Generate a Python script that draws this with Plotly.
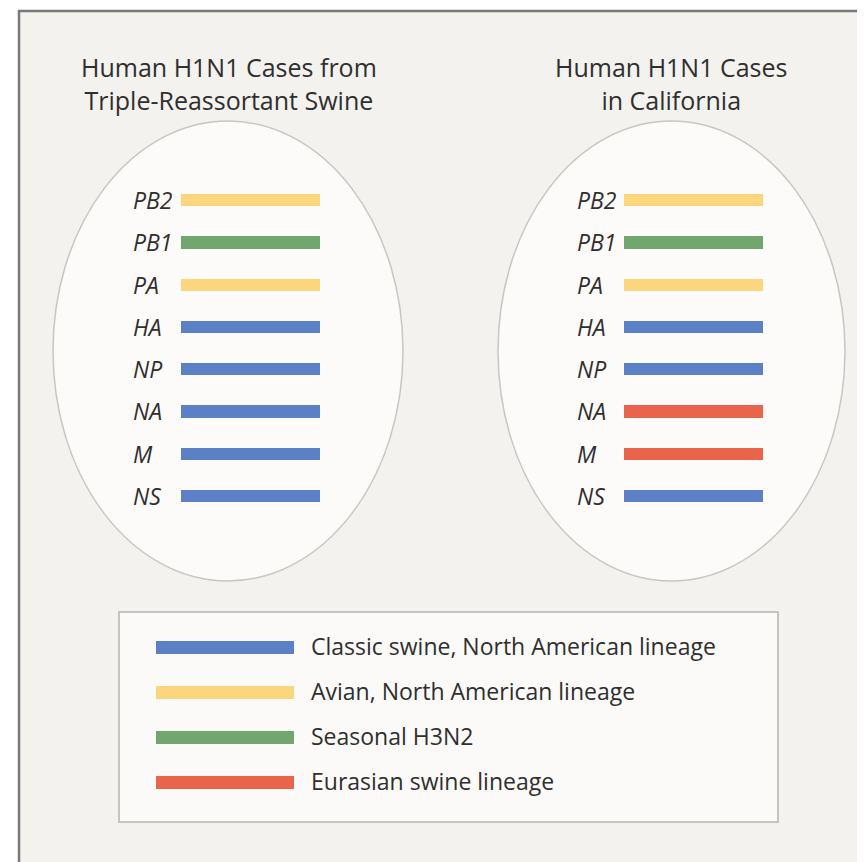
import plotly.graph_objects as go

W, H = 865, 862
OFF = 8  # browser body margin offset

genes = ["PB2", "PB1", "PA", "HA", "NP", "NA", "M", "NS"]
lineages = [
    "Classic swine, North American lineage",
    "Avian, North American lineage",
    "Seasonal H3N2",
    "Eurasian swine lineage",
]
lineage_colors = ["#5B80C6", "#FBD67C", "#72A66F", "#E9644B"]

panel_titles = [
    "Human H1N1 Cases from<br>Triple-Reassortant Swine",
    "Human H1N1 Cases<br>in California",
]
# lineage index for each gene segment
triple_reassortant = [1, 2, 1, 0, 0, 0, 0, 0]
california = [1, 2, 1, 0, 0, 3, 3, 0]
panels = [triple_reassortant, california]

FONT = "Open Sans"
TEXT = "#2f2f2f"


def px(x):
    return (x - OFF) / W


def py(y):
    return 1 - (y - OFF) / H


fig = go.Figure()

# panel geometry (pixels in the reference picture)
bar_x = [(181, 320), (624, 763)]
label_x = [133, 577]
ell = [(53, 121, 403, 581), (498, 121, 845, 581)]
title_cx = [229, 671]
row_top, row_bot = 200, 496
step = (row_bot - row_top) / (len(genes) - 1)
ydom = [py(row_bot + step / 2), py(row_top - step / 2)]

shapes = [
    dict(type="rect", xref="paper", yref="paper", x0=px(19), y0=-0.02, x1=1.02, y1=py(11),
         fillcolor="#F4F2EE", line=dict(color="#7a7a7a", width=2.5), layer="below"),
]
annotations = []

for i, seg in enumerate(panels):
    xa = "x" if i == 0 else f"x{i+1}"
    ya = "y" if i == 0 else f"y{i+1}"
    fig.add_trace(go.Bar(
        x=[1] * len(genes), y=genes, orientation="h", base=0,
        marker=dict(color=[lineage_colors[k] for k in seg], line=dict(width=0)),
        width=0.29, xaxis=xa, yaxis=ya, showlegend=False, hoverinfo="skip",
    ))
    x0, y0, x1, y1 = ell[i]
    shapes.append(dict(type="circle", xref="paper", yref="paper",
                       x0=px(x0), x1=px(x1), y0=py(y1), y1=py(y0),
                       fillcolor="#FCFBF9", line=dict(color="#C9C6C1", width=1.5),
                       layer="below"))
    for g in genes:
        annotations.append(dict(text=g, xref="paper", yref=ya, x=px(label_x[i]) - 2 / W, y=g,
                                xanchor="left", yanchor="middle", showarrow=False,
                                font=dict(family=FONT, size=23, color=TEXT, style="italic")))
    annotations.append(dict(text=panel_titles[i], xref="paper", yref="paper",
                            x=px(title_cx[i]), y=py(84), xanchor="center", yanchor="middle",
                            showarrow=False, align="center",
                            font=dict(family=FONT, size=25, color=TEXT)))

# legend panel
leg_top, leg_step = 647, 45
leg_dom = [py(leg_top + leg_step * (len(lineages) - 1) + leg_step / 2), py(leg_top - leg_step / 2)]
shapes.append(dict(type="rect", xref="paper", yref="paper",
                   x0=px(119), x1=px(778), y0=py(822), y1=py(612),
                   fillcolor="#FBFAF8", line=dict(color="#C6C4C1", width=2), layer="below"))
fig.add_trace(go.Bar(
    x=[1] * len(lineages), y=lineages, orientation="h", base=0,
    marker=dict(color=lineage_colors, line=dict(width=0)),
    width=0.27, xaxis="x3", yaxis="y3", showlegend=False, hoverinfo="skip",
))

axis_common = dict(showgrid=False, zeroline=False, showline=False, fixedrange=True)
layout = dict(
    width=W, height=H, margin=dict(l=0, r=0, t=0, b=0),
    paper_bgcolor="white", plot_bgcolor="rgba(0,0,0,0)",
    shapes=shapes, annotations=annotations, showlegend=False,
    bargap=0,
)
for i in range(2):
    sfx = "" if i == 0 else str(i + 1)
    layout[f"xaxis{sfx}"] = dict(domain=[px(bar_x[i][0]), px(bar_x[i][1])], range=[0, 1],
                                 showticklabels=False, anchor=f"y{sfx}", **axis_common)
    layout[f"yaxis{sfx}"] = dict(domain=ydom, range=[len(genes) - 0.5, -0.5],
                                 type="category", categoryarray=genes, categoryorder="array",
                                 showticklabels=False, anchor=f"x{sfx}", **axis_common)
layout["xaxis3"] = dict(domain=[px(156), px(294)], range=[0, 1], showticklabels=False,
                        anchor="y3", **axis_common)
layout["yaxis3"] = dict(domain=leg_dom, range=[len(lineages) - 0.5, -0.5], type="category",
                        categoryarray=lineages, categoryorder="array", side="right",
                        anchor="x3", ticks="", ticklabelstandoff=16,
                        tickfont=dict(family=FONT, size=23, color=TEXT), **axis_common)
fig.update_layout(**layout)

fig.write_html("out.html")
